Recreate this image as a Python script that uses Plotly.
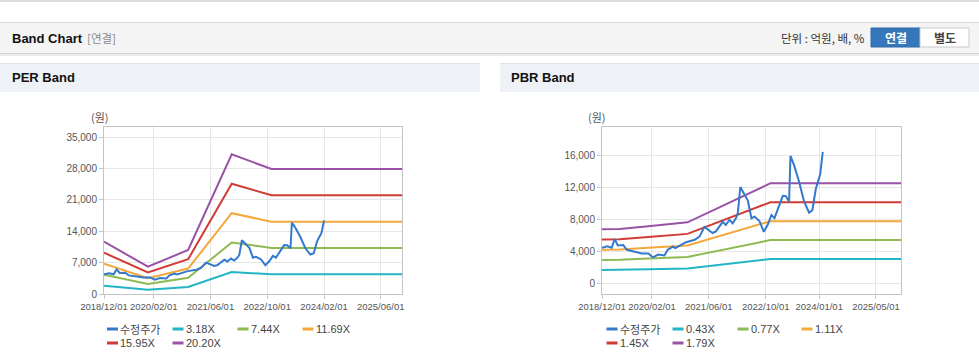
import plotly.graph_objects as go

W, H = 979, 361

# ---------------- data ----------------
price_name = "수정주가"
price_dates = [
    "2018-12-01", "2019-01-15", "2019-02-22", "2019-03-19", "2019-04-15", "2019-06-01",
    "2019-07-01", "2019-09-10", "2019-11-07", "2020-01-01", "2020-02-10", "2020-03-25",
    "2020-05-18", "2020-06-15", "2020-07-28", "2020-08-19", "2020-10-07", "2020-11-19",
    "2021-02-01", "2021-03-13", "2021-04-25", "2021-06-07", "2021-07-04", "2021-08-01",
    "2021-09-28", "2021-10-25", "2021-11-25", "2021-12-22", "2022-01-19", "2022-02-04",
    "2022-02-26", "2022-04-01", "2022-05-01", "2022-06-01", "2022-06-28", "2022-08-10",
    "2022-09-15", "2022-10-19", "2022-11-19", "2022-12-15", "2023-01-28", "2023-02-24",
    "2023-03-22", "2023-04-19", "2023-05-01", "2023-06-01", "2023-07-13", "2023-08-25",
    "2023-10-07", "2023-11-04", "2023-12-04", "2024-01-10", "2024-02-01",
]
price_vals = [
    4400, 4600, 4400, 5500, 4700, 4750,
    4150, 3900, 3700, 3700, 3200, 3550,
    3450, 4150, 4550, 4350, 4700, 5100,
    5400, 5800, 7000, 6600, 6250, 6450,
    7650, 7250, 7900, 7450, 8100, 8700,
    12000, 11100, 10300, 8100, 8300, 7700,
    6400, 7300, 8500, 8100, 9800, 10900,
    10850, 10200, 15900, 14700, 12700, 10200,
    8800, 9100, 11800, 13600, 16400,
]

per_dates = ["2018-12-01", "2019-12-13", "2020-11-22", "2021-12-01", "2022-11-07", "2025-12-01"]
per_names = ["3.18X", "7.44X", "11.69X", "15.95X", "20.20X"]
per_318 = [1836, 959, 1544, 4902, 4386, 4386]
per_744 = [4295, 2243, 3613, 11470, 10261, 10261]
per_1169 = [6748, 3524, 5677, 18021, 16123, 16123]
per_1595 = [9207, 4809, 7746, 24588, 21998, 21998]
per_2020 = [11660, 6090, 9810, 31140, 27860, 27860]

pbr_dates = ["2018-12-01", "2019-05-01", "2020-01-01", "2020-12-01", "2022-11-10", "2025-12-01"]
pbr_names = ["0.43X", "0.77X", "1.11X", "1.45X", "1.79X"]
pbr_043 = [1612, 1621, 1706, 1821, 2993, 2993]
pbr_077 = [2886, 2904, 3054, 3261, 5360, 5360]
pbr_111 = [4161, 4186, 4403, 4700, 7727, 7727]
pbr_145 = [5436, 5468, 5751, 6140, 10093, 10093]
pbr_179 = [6710, 6750, 7100, 7580, 12460, 12460]

per_xticks = ["2018-12-01", "2020-02-01", "2021-06-01", "2022-10-01", "2024-02-01", "2025-06-01"]
per_xtext = ["2018/12/01", "2020/02/01", "2021/06/01", "2022/10/01", "2024/02/01", "2025/06/01"]
pbr_xticks = ["2018-12-01", "2020-02-01", "2021-06-01", "2022-10-01", "2024-01-01", "2025-05-01"]
pbr_xtext = ["2018/12/01", "2020/02/01", "2021/06/01", "2022/10/01", "2024/01/01", "2025/05/01"]
per_yticks = [0, 7000, 14000, 21000, 28000, 35000]
pbr_yticks = [0, 4000, 8000, 12000, 16000]

price_color = "#3479cc"
band_colors = ["#22b5c6", "#8dbb51", "#f4a83a", "#d13b35", "#9a52a6"]

# ---------------- helpers ----------------
def px(x):
    return x / W

def py(y):
    return 1 - y / H

FONT = "Liberation Sans, Arial, sans-serif"
KFONT = "Noto Sans CJK KR, Liberation Sans, sans-serif"

fig = go.Figure()

per_bands = [per_318, per_744, per_1169, per_1595, per_2020]
pbr_bands = [pbr_043, pbr_077, pbr_111, pbr_145, pbr_179]

for vals, name, col in zip(per_bands, per_names, band_colors):
    fig.add_trace(go.Scatter(x=per_dates, y=vals, mode="lines", name=name,
                             line=dict(color=col, width=2), xaxis="x", yaxis="y",
                             showlegend=False))
fig.add_trace(go.Scatter(x=price_dates, y=price_vals, mode="lines", name=price_name,
                         line=dict(color=price_color, width=2), xaxis="x", yaxis="y",
                         showlegend=False))

for vals, name, col in zip(pbr_bands, pbr_names, band_colors):
    fig.add_trace(go.Scatter(x=pbr_dates, y=vals, mode="lines", name=name,
                             line=dict(color=col, width=2), xaxis="x2", yaxis="y2",
                             showlegend=False))
fig.add_trace(go.Scatter(x=price_dates, y=price_vals, mode="lines", name=price_name,
                         line=dict(color=price_color, width=2), xaxis="x2", yaxis="y2",
                         showlegend=False))

axis_common = dict(showgrid=True, gridcolor="#e6e6e6", gridwidth=1,
                   showline=True, linecolor="#c4c4c4", linewidth=1, mirror=True,
                   ticks="outside", ticklen=4, tickcolor="#c4c4c4",
                   zeroline=False, fixedrange=True, automargin=False)
xfont = dict(family=FONT, size=9.5, color="#555555")
yfont = dict(family=FONT, size=10, color="#555555")

plot_top, plot_bot = 127, 294
fig.update_layout(
    width=W, height=H,
    margin=dict(l=0, r=0, t=0, b=0, pad=0),
    paper_bgcolor="white", plot_bgcolor="white",
    showlegend=False,
    xaxis=dict(domain=[px(104), px(402)], type="date",
               range=["2018-12-01", "2025-12-01"], tickangle=0, tickfont=xfont,
               tickvals=per_xticks, ticktext=per_xtext, anchor="y", **axis_common),
    yaxis=dict(domain=[py(plot_bot), py(plot_top)], range=[0, 37230], tickfont=yfont,
               tickvals=per_yticks, tickformat=",", anchor="x", **axis_common),
    xaxis2=dict(domain=[px(602), px(901)], type="date",
                range=["2018-12-01", "2025-12-01"], tickangle=0, tickfont=xfont,
                tickvals=pbr_xticks, ticktext=pbr_xtext, anchor="y2", **axis_common),
    yaxis2=dict(domain=[py(plot_bot), py(plot_top)], range=[-1375, 19500], tickfont=yfont,
                tickvals=pbr_yticks, tickformat=",", anchor="x2", **axis_common),
)

shapes = []
annotations = []

def rect(x0, y0, x1, y1, fill, line=None):
    shapes.append(dict(type="rect", xref="paper", yref="paper", layer="below",
                       x0=px(x0), x1=px(x1), y0=py(y1), y1=py(y0),
                       fillcolor=fill, line=dict(width=1 if line else 0, color=line or fill)))

def hline(x0, x1, y, color, width=1):
    shapes.append(dict(type="line", xref="paper", yref="paper", layer="below",
                       x0=px(x0), x1=px(x1), y0=py(y), y1=py(y),
                       line=dict(color=color, width=width)))

def text(x, y, s, size=12, color="#222", bold=False, anchor="left", family=FONT):
    if bold:
        s = "<b>" + s + "</b>"
    annotations.append(dict(xref="paper", yref="paper", x=px(x), y=py(y), text=s,
                            showarrow=False, xanchor=anchor, yanchor="middle",
                            borderpad=0, borderwidth=0,
                            font=dict(family=family, size=size, color=color)))

# page chrome
hline(0, W, 1, "#dcdcdc", 2)
rect(0, 22, W, 53, "#f4f4f4")
hline(0, W, 22.5, "#dddddd", 1)
hline(0, W, 53.5, "#d2d2d2", 1)
hline(0, W, 55, "#ececec", 2)
text(12, 38, "Band Chart", size=13, color="#111", bold=True)
text(87, 38, "[연결]", size=11.5, color="#8a8a8a", family=KFONT)
text(865, 38, "단위 : 억원, 배, %", size=11.5, color="#333", anchor="right", family=KFONT)
rect(871, 28, 920, 47, "#3577bb", "#2f6aa8")
rect(920, 28, 969, 47, "#ffffff", "#c8c8c8")
text(895.5, 37.5, "연결", size=12, color="white", bold=True, anchor="center", family=KFONT)
text(944.5, 37.5, "별도", size=12, color="#444", bold=True, anchor="center", family=KFONT)

# section headers
rect(0, 63, 480, 92, "#eef1f6")
hline(0, 480, 63.5, "#dde2ea", 1)
rect(500, 63, W, 92, "#eef1f6")
hline(500, W, 63.5, "#dde2ea", 1)
text(12, 78, "PER Band", size=13, color="#111", bold=True)
text(511, 78, "PBR Band", size=13, color="#111", bold=True)

# unit labels
text(100, 117, "(원)", size=11, color="#555", anchor="center", family=KFONT)
text(597, 117, "(원)", size=11, color="#555", anchor="center", family=KFONT)

# legends
def legend(x_cols, rows_y, names, colors):
    for i, (nm, col) in enumerate(zip(names, colors)):
        r, c = divmod(i, 4)
        x0 = x_cols[c]
        y = rows_y[r]
        shapes.append(dict(type="line", xref="paper", yref="paper",
                           x0=px(x0), x1=px(x0 + 11), y0=py(y), y1=py(y),
                           line=dict(color=col, width=3)))
        text(x0 + 13, y, nm, size=11, color="#444",
             family=KFONT if nm == price_name else FONT)

legend([107, 172.5, 237.5, 302.5], [329, 343],
       [price_name] + per_names, [price_color] + band_colors)
legend([606.5, 672.5, 737.5, 801.5], [329, 343],
       [price_name] + pbr_names, [price_color] + band_colors)

fig.update_layout(shapes=shapes, annotations=annotations)
fig.write_html("out.html", config={"displayModeBar": False},
               post_script="document.body.style.margin='0';document.body.style.overflow='hidden';")
